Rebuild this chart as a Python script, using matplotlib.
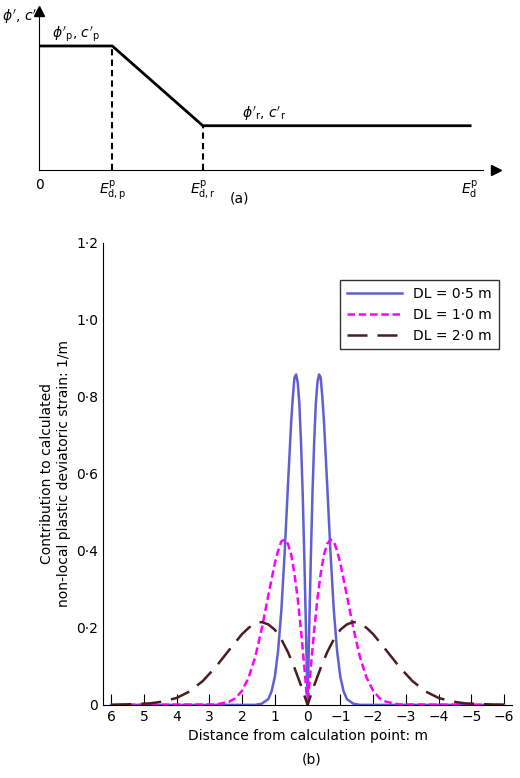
import matplotlib
matplotlib.use("Agg")
import matplotlib.pyplot as plt
import numpy as np

# Panel (a)
a_x = [0, 0.17, 0.38, 1.0]
a_y = [0.78, 0.78, 0.28, 0.28]

# Panel (b): positive side values (curves symmetric)
x05 = [0, 0.05, 0.1, 0.15, 0.2, 0.25, 0.3, 0.35, 0.4, 0.45, 0.5, 0.6, 0.7, 0.8, 0.9, 1.0, 1.1, 1.2, 1.4, 1.6, 6.0]
y05 = [0, 0.198, 0.385, 0.55, 0.68, 0.78, 0.837, 0.858, 0.85, 0.80, 0.736, 0.569, 0.395, 0.247, 0.141, 0.073, 0.035, 0.015, 0.003, 0, 0]
x10 = [0, 0.1, 0.2, 0.3, 0.4, 0.5, 0.6, 0.7, 0.8, 0.9, 1.0, 1.2, 1.4, 1.6, 1.8, 2.0, 2.2, 2.4, 2.8, 6.0]
y10 = [0, 0.099, 0.192, 0.275, 0.34, 0.39, 0.418, 0.429, 0.425, 0.40, 0.368, 0.284, 0.198, 0.124, 0.071, 0.037, 0.017, 0.008, 0.001, 0]
x20 = [0, 0.2, 0.4, 0.6, 0.8, 1.0, 1.2, 1.4, 1.6, 1.8, 2.0, 2.4, 2.8, 3.2, 3.6, 4.0, 4.4, 4.8, 5.6, 6.0]
y20 = [0, 0.05, 0.096, 0.137, 0.17, 0.195, 0.209, 0.215, 0.212, 0.20, 0.184, 0.142, 0.099, 0.062, 0.035, 0.018, 0.009, 0.004, 0.001, 0]
xticks = [6, 5, 4, 3, 2, 1, 0, -1, -2, -3, -4, -5, -6]
yticks = [0, 0.2, 0.4, 0.6, 0.8, 1.0, 1.2]

def full(xs, ys):
    xs = np.array(xs); ys = np.array(ys)
    return np.concatenate([-xs[::-1], xs[1:]]), np.concatenate([ys[::-1], ys[1:]])

fig = plt.figure(figsize=(5.2, 7.78), dpi=100)

axa = fig.add_axes([0.075, 0.781, 0.854, 0.205])
axa.plot(a_x, a_y, color="black", lw=2)
for xv, yv in [(a_x[1], a_y[1]), (a_x[2], a_y[2])]:
    axa.plot([xv, xv], [0, yv], color="black", lw=1.5, ls=(0, (3, 2)))
axa.set_xlim(0, 1.03); axa.set_ylim(0, 1.0)
for s in ["top", "right"]:
    axa.spines[s].set_visible(False)
axa.set_xticks([]); axa.set_yticks([])
axa.plot(1.03, 0, ">k", transform=axa.transAxes, clip_on=False, ms=7)
axa.plot(0, 1.0, "^k", transform=axa.transAxes, clip_on=False, ms=7)
axa.text(0.03, 0.83, r"$\phi'_{\rm p}$, $c'_{\rm p}$", fontsize=10)
axa.text(0.47, 0.33, r"$\phi'_{\rm r}$, $c'_{\rm r}$", fontsize=10)
fig.text(0.003, 0.978, r"$\phi'$, $c'$", fontsize=10, ha="left", va="center")
axa.text(0, -0.05, "0", ha="center", va="top", fontsize=10)
axa.text(a_x[1], -0.05, r"$E^{\rm p}_{\rm d,p}$", ha="center", va="top", fontsize=10)
axa.text(a_x[2], -0.05, r"$E^{\rm p}_{\rm d,r}$", ha="center", va="top", fontsize=10)
axa.text(1.0, -0.05, r"$E^{\rm p}_{\rm d}$", ha="center", va="top", fontsize=10)
fig.text(0.46, 0.74, "(a)", ha="center", fontsize=10)

ax = fig.add_axes([0.198, 0.094, 0.787, 0.594])
X, Y = full(x05, y05); ax.plot(X, Y, color="#5f5fcf", lw=1.8, label="DL = 0·5 m")
X, Y = full(x10, y10); ax.plot(X, Y, color="#ff00ff", lw=1.8, ls=(0, (3, 1.5)), label="DL = 1·0 m")
X, Y = full(x20, y20); ax.plot(X, Y, color="#4a1e1e", lw=1.8, ls=(0, (8, 4)), label="DL = 2·0 m")
ax.set_xlim(6.25, -6.25); ax.set_ylim(0, 1.2)
ax.set_xticks(xticks); ax.set_xticklabels([str(t).replace("-", "−") for t in xticks])
ax.set_yticks(yticks); ax.set_yticklabels(["0" if t == 0 else f"{t:.1f}".replace(".", "·") for t in yticks])
for s in ["top", "right"]:
    ax.spines[s].set_visible(False)
ax.tick_params(axis="x", direction="in", length=8, labelsize=10)
ax.tick_params(axis="y", direction="out", length=0, labelsize=10)
ax.set_xlabel("Distance from calculation point: m", fontsize=10)
ax.set_ylabel("Contribution to calculated\nnon-local plastic deviatoric strain: 1/m", fontsize=10)
ax.legend(loc="upper right", bbox_to_anchor=(0.985, 0.935), fontsize=10, frameon=True,
          fancybox=False, edgecolor="black", handlelength=4, borderpad=0.5)
fig.text(0.6, 0.018, "(b)", ha="center", fontsize=10)
fig.savefig("out.png", dpi=100)
